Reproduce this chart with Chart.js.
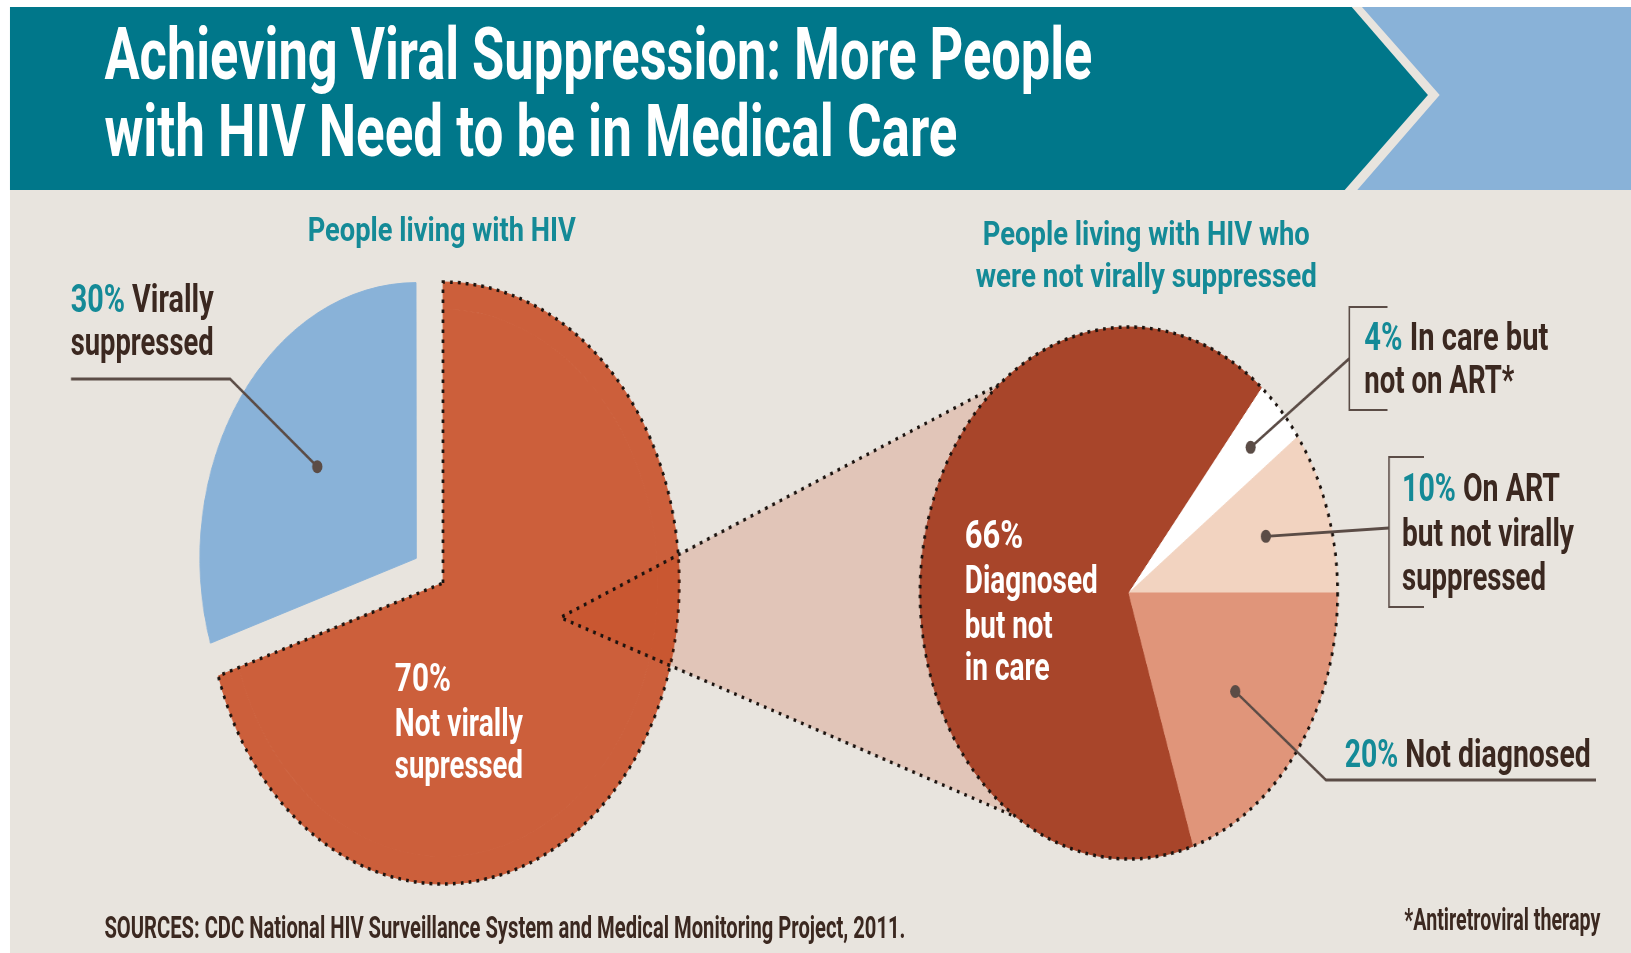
<!DOCTYPE html>
<html>
<head>
<meta charset="utf-8">
<title>Achieving Viral Suppression</title>
<script src="https://cdn.jsdelivr.net/npm/chart.js@4.4.1/dist/chart.umd.min.js"></script>
<style>
  html, body { margin: 0; padding: 0; background: #fff; overflow: hidden; }
  /* the whole graphic is drawn wide and squeezed, like the original artwork */
  #stage { position: absolute; left: 0; top: 0; width: 2078px; height: 953px; transform: scaleX(0.785); transform-origin: 0 0; }
  #stage canvas, #stage svg { position: absolute; left: 0; top: 0; }
  .t { position: absolute; white-space: nowrap; line-height: 1; font-family: Roboto, "Liberation Sans", Arial, sans-serif; font-weight: 700; transform-origin: 0 0; }
  .w { color: #fff; }
  .k { color: #3b2820; }
  .c { color: #148a97; }
</style>
</head>
<body>
<div id="stage">
  <svg width="2078" height="953">
    <rect x="12.7" y="7" width="2066" height="946" fill="#e8e4de"/>
    <polygon points="12.7,7 1722,7 1819,95 1713,190 12.7,190" fill="#00778a"/>
    <polygon points="1735,7 2078,7 2078,190 1729,190 1834,95" fill="#89b2d8"/>
  </svg>
  <canvas id="overallChart" width="2078" height="953"></canvas>
  <canvas id="careChart" width="2078" height="953"></canvas>

  <div class="t w" style="left:132.5px;top:19.4px;font-size:72px" data-w="988">Achieving Viral Suppression: More People</div>
  <div class="t w" style="left:132.5px;top:96.4px;font-size:72px" data-w="853">with HIV Need to be in Medical Care</div>

  <div class="t c" style="left:392.4px;top:212.4px;font-size:34px" data-w="268">People living with HIV</div>
  <div class="t c" style="left:1252.2px;top:216px;font-size:34px" data-w="327">People living with HIV who</div>
  <div class="t c" style="left:1243.3px;top:258.4px;font-size:34px" data-w="341">were not virally suppressed</div>

  <div class="t k" style="left:90.4px;top:279.6px;font-size:38px" data-w="143"><span class="c pct" data-set="overall" data-i="1"></span> Virally</div>
  <div class="t k" style="left:90.4px;top:323px;font-size:38px" data-w="143">suppressed</div>

  <div class="t w" style="left:503.2px;top:659px;font-size:38px" data-w="56"><span class="pct" data-set="overall" data-i="0"></span></div>
  <div class="t w" style="left:503.2px;top:703.7px;font-size:38px" data-w="128">Not virally</div>
  <div class="t w" style="left:503.2px;top:746px;font-size:38px" data-w="128">supressed</div>

  <div class="t w" style="left:1229.3px;top:516px;font-size:38px" data-w="58.5"><span class="pct" data-set="care" data-i="0"></span></div>
  <div class="t w" style="left:1229.3px;top:561px;font-size:38px" data-w="133">Diagnosed</div>
  <div class="t w" style="left:1229.3px;top:605.5px;font-size:38px" data-w="88">but not</div>
  <div class="t w" style="left:1229.3px;top:648px;font-size:38px" data-w="85">in care</div>

  <div class="t k" style="left:1737.6px;top:318.4px;font-size:38px" data-w="184"><span class="c pct" data-set="care" data-i="1"></span> In care but</div>
  <div class="t k" style="left:1737.6px;top:361px;font-size:38px" data-w="150">not on ART*</div>

  <div class="t k" style="left:1786px;top:469.3px;font-size:38px" data-w="158"><span class="c pct" data-set="care" data-i="2"></span> On ART</div>
  <div class="t k" style="left:1786px;top:514px;font-size:38px" data-w="172">but not virally</div>
  <div class="t k" style="left:1786px;top:558px;font-size:38px" data-w="144">suppressed</div>

  <div class="t k" style="left:1713.4px;top:735px;font-size:38px" data-w="246"><span class="c pct" data-set="care" data-i="3"></span> Not diagnosed</div>

  <div class="t k" style="left:132.5px;top:912px;font-size:31px" data-w="801">SOURCES: CDC National HIV Surveillance System and Medical Monitoring Project, 2011.</div>
  <div class="t k" style="left:1788.5px;top:904px;font-size:31px" data-w="196">*Antiretroviral therapy</div>
</div>

<script>
// People living with HIV
const overallLabels = ['Not virally suppressed', 'Virally suppressed'];
const overallValues = [70, 30];
// People living with HIV who were not virally suppressed
const careLabels = ['Diagnosed but not in care', 'In care but not on ART', 'On ART but not virally suppressed', 'Not diagnosed'];
const careValues = [66, 4, 10, 20];

const overallColors = ['#cc5f3b', '#89b2d8'];
const careColors = ['#a8452a', '#ffffff', '#f2d3c0', '#e0957a'];
const lineColor = '#5b4c46';

// percent labels come from the data
document.querySelectorAll('.pct').forEach(function(el) {
  const vals = el.dataset.set === 'overall' ? overallValues : careValues;
  el.textContent = vals[+el.dataset.i] + '%';
});

// angle in degrees clockwise from 12 o'clock
function polar(cx, cy, r, deg) {
  const a = (deg - 90) * Math.PI / 180;
  return { x: cx + Math.cos(a) * r, y: cy + Math.sin(a) * r };
}

function dotted(ctx) {
  ctx.setLineDash([3.5, 6.5]);
  ctx.lineWidth = 3.5;
  ctx.lineCap = 'butt';
  ctx.strokeStyle = '#1a120e';
}

function leader(ctx, pts) {
  ctx.save();
  ctx.setLineDash([]);
  ctx.strokeStyle = lineColor;
  ctx.fillStyle = lineColor;
  ctx.lineWidth = 2.8;
  ctx.beginPath();
  pts.forEach(function(p, i) { i ? ctx.lineTo(p.x, p.y) : ctx.moveTo(p.x, p.y); });
  ctx.stroke();
  const d = pts[pts.length - 1];
  ctx.beginPath();
  ctx.arc(d.x, d.y, 6.5, 0, Math.PI * 2);
  ctx.fill();
  ctx.restore();
}

// point inside a slice, along its middle angle
function slicePoint(el, frac) {
  const mid = (el.startAngle + el.endAngle) / 2;
  const shift = (el.options.offset || 0) / 4;
  const r = shift + el.outerRadius * frac;
  return { x: el.x + Math.cos(mid) * r, y: el.y + Math.sin(mid) * r };
}

const overallDecor = {
  id: 'overallDecor',
  afterDatasetsDraw: function(chart) {
    const ctx = chart.ctx;
    const arc = chart.getDatasetMeta(0).data[0];
    ctx.save();
    dotted(ctx);
    ctx.beginPath();
    ctx.moveTo(arc.x, arc.y);
    ctx.arc(arc.x, arc.y, arc.outerRadius, arc.startAngle, arc.endAngle);
    ctx.closePath();
    ctx.stroke();
    ctx.restore();

    const blue = chart.getDatasetMeta(1).data[1];
    leader(ctx, [{ x: 90.4, y: 379 }, { x: 293, y: 379 }, slicePoint(blue, 0.57)]);
  }
};

const overallChart = new Chart(document.getElementById('overallChart'), {
  type: 'pie',
  data: {
    labels: overallLabels,
    datasets: [{
      // thin outer ring: only the orange slice reaches the full radius
      data: overallValues,
      backgroundColor: [overallColors[0], 'rgba(0,0,0,0)'],
      borderColor: [overallColors[0], 'rgba(0,0,0,0)'],
      borderWidth: 1,
      weight: 1
    }, {
      data: overallValues,
      backgroundColor: overallColors,
      borderColor: overallColors,
      borderWidth: 1,
      offset: [0, 168],
      weight: 10
    }]
  },
  options: {
    responsive: false,
    animation: false,
    events: [],
    radius: 301,
    layout: { padding: { left: 200, right: 1149.4, top: 230, bottom: 17 } },
    plugins: { legend: { display: false }, tooltip: { enabled: false } }
  },
  plugins: [overallDecor]
});

const careDecor = {
  id: 'careDecor',
  beforeDatasetsDraw: function(chart) {
    // zoom cone from the orange slice to this pie
    const ctx = chart.ctx;
    const src = overallChart.getDatasetMeta(0).data[0];
    const pie = chart.getDatasetMeta(0).data[0];
    const apex = polar(src.x, src.y, src.outerRadius * 0.51, 103);
    const top = polar(pie.x, pie.y, pie.outerRadius, 321.7);
    const bottom = polar(pie.x, pie.y, pie.outerRadius, 212.6);
    ctx.save();
    ctx.fillStyle = 'rgba(190,50,0,0.17)';
    ctx.beginPath();
    ctx.moveTo(apex.x, apex.y);
    ctx.lineTo(top.x, top.y);
    ctx.lineTo(pie.x, pie.y);
    ctx.lineTo(bottom.x, bottom.y);
    ctx.closePath();
    ctx.fill();
    dotted(ctx);
    ctx.beginPath();
    ctx.moveTo(top.x, top.y);
    ctx.lineTo(apex.x, apex.y);
    ctx.lineTo(bottom.x, bottom.y);
    ctx.stroke();
    ctx.restore();
  },
  afterDatasetsDraw: function(chart) {
    const ctx = chart.ctx;
    const els = chart.getDatasetMeta(0).data;
    const pie = els[0];
    ctx.save();
    dotted(ctx);
    ctx.beginPath();
    ctx.arc(pie.x, pie.y, pie.outerRadius, 0, Math.PI * 2);
    ctx.stroke();

    // brackets
    ctx.setLineDash([]);
    ctx.strokeStyle = lineColor;
    ctx.lineWidth = 2.2;
    ctx.beginPath();
    ctx.moveTo(1767.5, 307); ctx.lineTo(1718.9, 307); ctx.lineTo(1718.9, 410); ctx.lineTo(1767.5, 410);
    ctx.moveTo(1814, 457); ctx.lineTo(1769.4, 457); ctx.lineTo(1769.4, 607); ctx.lineTo(1814, 607);
    ctx.stroke();
    ctx.restore();

    leader(ctx, [{ x: 1718.9, y: 358.5 }, slicePoint(els[1], 0.8)]);
    leader(ctx, [{ x: 1769.4, y: 528 }, slicePoint(els[2], 0.69)]);
    leader(ctx, [{ x: 2033, y: 780 }, { x: 1689.2, y: 780 }, slicePoint(els[3], 0.63)]);
  }
};

const careChart = new Chart(document.getElementById('careChart'), {
  type: 'pie',
  data: {
    labels: careLabels,
    datasets: [{
      data: careValues,
      backgroundColor: careColors,
      borderColor: careColors,
      borderWidth: 1
    }]
  },
  options: {
    responsive: false,
    animation: false,
    events: [],
    radius: 266,
    rotation: 162,
    layout: { padding: { left: 1000, right: 202, top: 250, bottom: 17 } },
    plugins: { legend: { display: false }, tooltip: { enabled: false } }
  },
  plugins: [careDecor]
});

// squeeze each text line to the width it has in the artwork
function fitText() {
  document.querySelectorAll('[data-w]').forEach(function(el) {
    el.style.transform = 'none';
    const w = el.getBoundingClientRect().width;
    el.style.transform = 'scaleX(' + (parseFloat(el.dataset.w) / w) + ')';
  });
}
fitText();
document.fonts.ready.then(fitText);
</script>
</body>
</html>
